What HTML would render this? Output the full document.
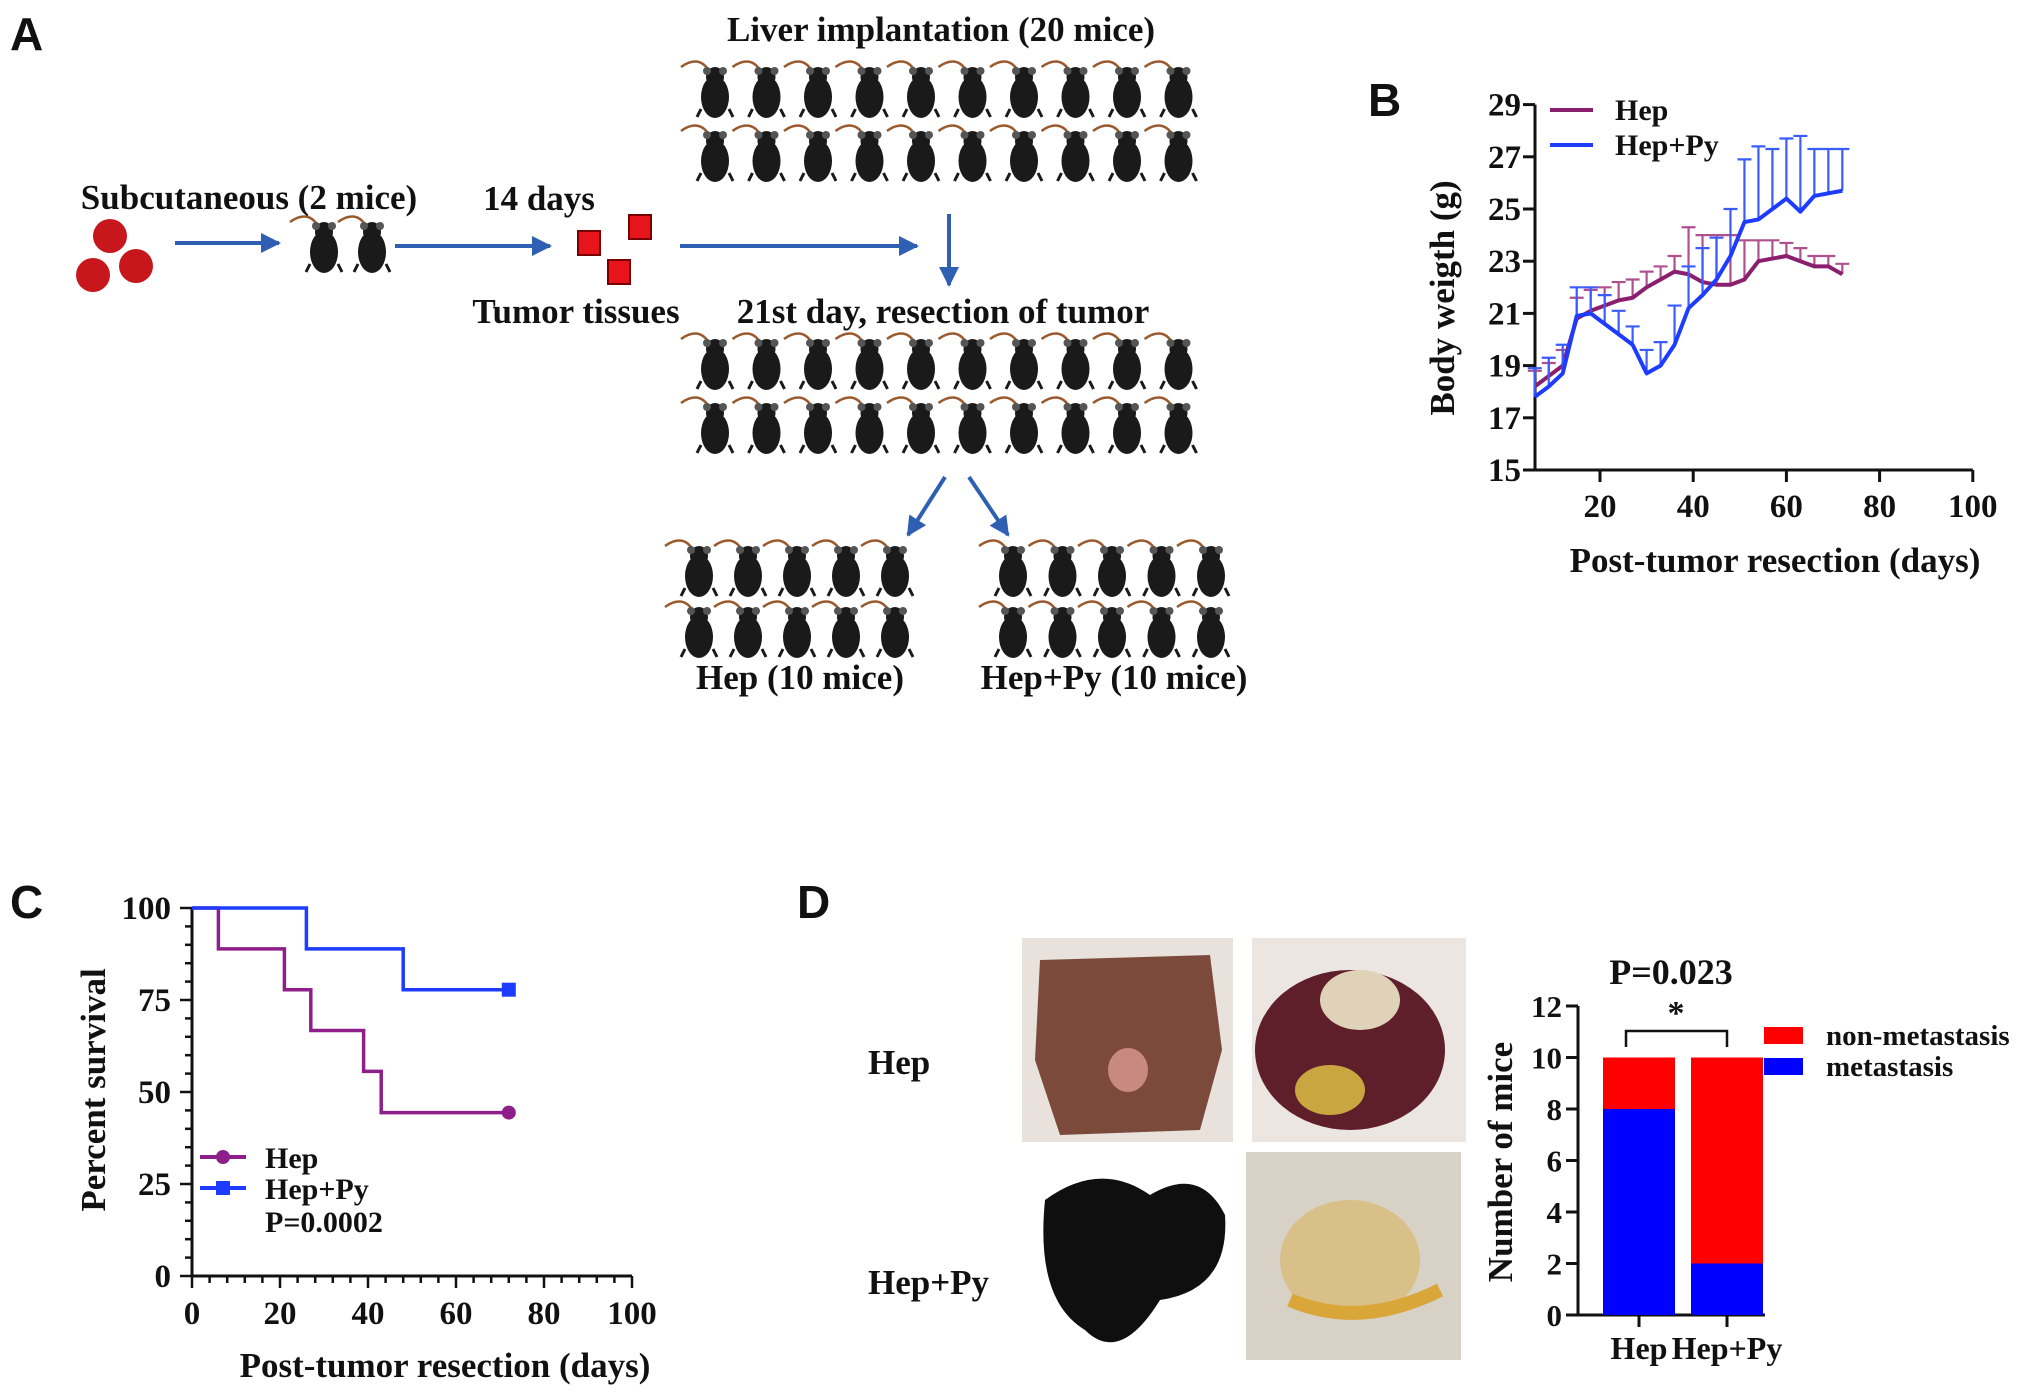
<!DOCTYPE html>
<html><head><meta charset="utf-8"><title>Figure</title>
<style>
html,body{margin:0;padding:0;background:#fff;}
svg{display:block;}
text{font-family:"Liberation Serif",serif;font-weight:bold;fill:#111;}
.lett{font-family:"Liberation Sans",sans-serif;font-weight:bold;font-size:46px;}
</style></head>
<body>
<svg id="fig" width="2031" height="1396" viewBox="0 0 2031 1396" xmlns="http://www.w3.org/2000/svg">
<defs>
<g id="mouse">
<path d="M-6,-20 C-14,-34 -26,-30 -34,-24" stroke="#9b5a2e" stroke-width="2.5" fill="none"/>
<ellipse cx="0" cy="6" rx="14" ry="21" fill="#1a1a1a"/>
<ellipse cx="0" cy="-14" rx="9" ry="10" fill="#1a1a1a"/>
<circle cx="-8" cy="-20" r="4" fill="#555"/>
<circle cx="8" cy="-20" r="4" fill="#555"/>
<path d="M-14,18 l-4,8 M14,18 l4,8" stroke="#1a1a1a" stroke-width="3"/>
</g>
<marker id="ah" viewBox="0 0 10 10" refX="9" refY="5" markerWidth="5" markerHeight="5" orient="auto"><path d="M0,0 L10,5 L0,10 z" fill="#2f5fb3"/></marker>
</defs>

<!-- Panel A -->
<text class="lett" x="10" y="50">A</text>
<text x="941" y="41" font-size="35" text-anchor="middle">Liver implantation (20 mice)</text>
<text x="249" y="209" font-size="35" text-anchor="middle">Subcutaneous (2 mice)</text>
<text x="539" y="210" font-size="35" text-anchor="middle">14 days</text>
<text x="576" y="323" font-size="35" text-anchor="middle">Tumor tissues</text>
<text x="943" y="323" font-size="35" text-anchor="middle">21st day, resection of tumor</text>
<text x="800" y="689" font-size="35" text-anchor="middle">Hep (10 mice)</text>
<text x="1114" y="689" font-size="35" text-anchor="middle">Hep+Py (10 mice)</text>
<g>
<circle cx="110" cy="236" r="17" fill="#c8161d"/><circle cx="93" cy="275" r="17" fill="#c8161d"/><circle cx="136" cy="266" r="17" fill="#c8161d"/>
</g>
<g>
<rect x="578" y="231" width="22" height="24" fill="#e8141c" stroke="#7a0000" stroke-width="2"/>
<rect x="629" y="215" width="22" height="24" fill="#e8141c" stroke="#7a0000" stroke-width="2"/>
<rect x="608" y="260" width="22" height="24" fill="#e8141c" stroke="#7a0000" stroke-width="2"/>
</g>
<g stroke="#2f5fb3" stroke-width="4" marker-end="url(#ah)">
<line x1="175" y1="243" x2="279" y2="243"/>
<line x1="395" y1="246" x2="550" y2="246"/>
<line x1="680" y1="246" x2="917" y2="246"/>
<line x1="949" y1="214" x2="949" y2="285"/>
<line x1="945" y1="477" x2="908" y2="535"/>
<line x1="969" y1="477" x2="1008" y2="535"/>
</g>
<g id="mice"></g>

<!-- Panel B -->
<text class="lett" x="1368" y="116">B</text>
<g id="chartB"></g>

<!-- Panel C -->
<text class="lett" x="10" y="918">C</text>
<g id="chartC"></g>

<!-- Panel D -->
<text class="lett" x="797" y="918">D</text>
<text x="868" y="1074" font-size="35">Hep</text>
<text x="868" y="1294" font-size="35">Hep+Py</text>
<g>
<rect x="1022" y="938" width="211" height="204" fill="#e9e2dc"/>
<path d="M1040,960 L1210,955 L1222,1050 L1200,1130 L1060,1135 L1035,1060 Z" fill="#7c4a3a"/>
<ellipse cx="1128" cy="1070" rx="20" ry="22" fill="#c88a80"/>
</g>
<g>
<rect x="1252" y="938" width="214" height="204" fill="#ece6e2"/>
<ellipse cx="1350" cy="1050" rx="95" ry="80" fill="#5e1f2a"/>
<ellipse cx="1360" cy="1000" rx="40" ry="30" fill="#e0d2b8"/>
<ellipse cx="1330" cy="1090" rx="35" ry="25" fill="#c9a640"/>
</g>
<g>
<rect x="1022" y="1152" width="211" height="208" fill="#ffffff"/>
<path d="M1045,1200 Q1100,1160 1150,1195 Q1200,1165 1225,1215 Q1230,1290 1160,1300 Q1120,1365 1085,1330 Q1035,1300 1045,1200 Z" fill="#0f0f0f"/>
</g>
<g>
<rect x="1246" y="1152" width="215" height="208" fill="#d8d2c6"/>
<ellipse cx="1350" cy="1260" rx="70" ry="60" fill="#d9c089"/>
<path d="M1290,1300 Q1360,1330 1440,1290" stroke="#d9a63a" stroke-width="14" fill="none"/>
</g>
<g id="chartD"></g>
</svg>

<script>
// ---------- Panel B data ----------
const daysB = [6,9,12,15,18,21,24,27,30,33,36,39,42,45,48,51,54,57,60,63,66,69,72];
const hepMean = [18.2,18.6,19.0,20.8,21.1,21.3,21.5,21.6,22.0,22.3,22.6,22.5,22.2,22.1,22.1,22.3,23.0,23.1,23.2,23.0,22.8,22.8,22.5];
const hepErr = [0.6,0.5,0.6,0.8,0.8,0.7,0.7,0.7,0.6,0.5,0.6,1.8,1.8,1.9,1.9,1.5,0.8,0.7,0.5,0.5,0.4,0.4,0.4];
const pyMean = [17.8,18.2,18.7,20.9,21.0,20.6,20.2,19.8,18.7,19.0,19.8,21.2,21.7,22.3,23.2,24.5,24.6,25.0,25.4,24.9,25.5,25.6,25.7];
const pyErr = [1.1,1.1,1.1,1.1,1.0,1.1,0.9,0.7,0.9,0.9,1.5,1.6,1.8,1.6,1.8,2.4,2.8,2.3,2.3,2.9,1.8,1.7,1.6];
const yTicksB = [15,17,19,21,23,25,27,29];
const xTicksB = [20,40,60,80,100];
// ---------- Panel C data ----------
const hepKM_t = [0,6,21,27,39,43,72];
const hepKM_s = [100,88.9,77.8,66.7,55.6,44.4,44.4];
const pyKM_t = [0,26,48,72];
const pyKM_s = [100,88.9,77.8,77.8];
const yTicksC = [0,25,50,75,100];
const xTicksC = [0,20,40,60,80,100];
// ---------- Panel D data ----------
const groupsD = ["Hep","Hep+Py"];
const metastasis = [8,2];
const nonMetastasis = [2,8];
const yTicksD = [0,2,4,6,8,10,12];

const NS = "http://www.w3.org/2000/svg";
function mk(parent, tag, attrs, txt){
  const e = document.createElementNS(NS, tag);
  for (const k in attrs) e.setAttribute(k, attrs[k]);
  if (txt !== undefined) e.textContent = txt;
  parent.appendChild(e);
  return e;
}

// ---------- mice ----------
const miceG = document.getElementById('mice');
const micePos = [];
for (let r of [91,155,363,427]) for (let i=0;i<10;i++) micePos.push([715+i*51.5, r]);
for (let r of [570,631]) { for (let i=0;i<5;i++) micePos.push([699+i*49, r]); for (let i=0;i<5;i++) micePos.push([1013+i*49.5, r]); }
micePos.push([324,246]); micePos.push([372,246]);
micePos.forEach(p => {
  const u = mk(miceG, 'use', {href:'#mouse', transform:`translate(${p[0]},${p[1]})`});
  
  
});

// ---------- Panel B ----------
const gB = document.getElementById('chartB');
const xB = d => 1600 + (d-20)*4.66;
const yB = v => 470 - (v-15)*26.1;
const axB = mk(gB,'path',{d:`M1535,${yB(29)} L1535,470 L${xB(100)},470`,stroke:'#111','stroke-width':3,fill:'none'});


yTicksB.forEach(v=>{
  const t = mk(gB,'line',{x1:1523,x2:1535,y1:yB(v),y2:yB(v),stroke:'#111','stroke-width':3});
  
  
  const l = mk(gB,'text',{x:1521,y:yB(v)+11,'font-size':33,'text-anchor':'end'},String(v));
  
  
});
xTicksB.forEach(v=>{
  const t = mk(gB,'line',{x1:xB(v),x2:xB(v),y1:470,y2:482,stroke:'#111','stroke-width':3});
  
  
  const l = mk(gB,'text',{x:xB(v),y:517,'font-size':33,'text-anchor':'middle'},String(v));
  
  
});
const bxt = mk(gB,'text',{x:1775,y:572,'font-size':35,'text-anchor':'middle'},'Post-tumor resection (days)');


const byt = mk(gB,'text',{x:0,y:0,'font-size':35,'text-anchor':'middle',transform:'translate(1454,298) rotate(-90)'},'Body weigth (g)');


function seriesB(mean, err, color, errColor, name){
  err.forEach((e,i)=>{
    const x = xB(daysB[i]), y0 = yB(mean[i]), y1 = yB(mean[i]+e);
    const eb = mk(gB,'path',{d:`M${x},${y0} L${x},${y1} M${x-7},${y1} L${x+7},${y1}`,stroke:errColor,'stroke-width':2.2,fill:'none'});
    
    
  });
  const pts = mean.map((v,i)=>`${xB(daysB[i])},${yB(v)}`).join(' ');
  const pl = mk(gB,'polyline',{points:pts,stroke:color,'stroke-width':4,fill:'none','stroke-linejoin':'round'});
  
  
}
seriesB(hepMean, hepErr, '#8a1f6e', '#b0508f', 'hep');
seriesB(pyMean, pyErr, '#1e3cff', '#3a5cff', 'hep-py');
const lb1 = mk(gB,'line',{x1:1550,x2:1593,y1:110,y2:110,stroke:'#8a1f6e','stroke-width':4});


const lt1 = mk(gB,'text',{x:1615,y:120,'font-size':30},'Hep');


const lb2 = mk(gB,'line',{x1:1550,x2:1593,y1:145,y2:145,stroke:'#1e3cff','stroke-width':4});


const lt2 = mk(gB,'text',{x:1615,y:155,'font-size':30},'Hep+Py');



// ---------- Panel C ----------
const gC = document.getElementById('chartC');
const xC = d => 192 + d*4.4;
const yC = p => 1276 - p*3.68;
const axC = mk(gC,'path',{d:`M${xC(0)},${yC(100)} L${xC(0)},${yC(0)} L${xC(100)},${yC(0)}`,stroke:'#111','stroke-width':3,fill:'none'});


for (let v=0; v<=100; v+=5){
  const major = v%25===0;
  const t = mk(gC,'line',{x1:xC(0)-(major?12:7),x2:xC(0),y1:yC(v),y2:yC(v),stroke:'#111','stroke-width':2.5});
  
  
}
for (let v=0; v<=100; v+=4){
  const major = v%20===0;
  const t = mk(gC,'line',{x1:xC(v),x2:xC(v),y1:yC(0),y2:yC(0)+(major?12:7),stroke:'#111','stroke-width':2.5});
  
  
}
yTicksC.forEach(v=>{
  const l = mk(gC,'text',{x:171,y:yC(v)+11,'font-size':33,'text-anchor':'end'},String(v));
  
  
});
xTicksC.forEach(v=>{
  const l = mk(gC,'text',{x:xC(v),y:1324,'font-size':33,'text-anchor':'middle'},String(v));
  
  
});
const cxt = mk(gC,'text',{x:445,y:1377,'font-size':35,'text-anchor':'middle'},'Post-tumor resection (days)');


const cyt = mk(gC,'text',{x:0,y:0,'font-size':35,'text-anchor':'middle',transform:'translate(105,1090) rotate(-90)'},'Percent survival');


function stepPath(ts, ss){
  let d = `M${xC(ts[0])},${yC(ss[0])}`;
  for (let i=1;i<ts.length;i++){ d += ` L${xC(ts[i])},${yC(ss[i-1])} L${xC(ts[i])},${yC(ss[i])}`; }
  return d;
}
const kmHep = mk(gC,'path',{d:stepPath(hepKM_t,hepKM_s),stroke:'#8e1f8a','stroke-width':3.5,fill:'none'});


const kmPy = mk(gC,'path',{d:stepPath(pyKM_t,pyKM_s),stroke:'#1e3cff','stroke-width':3.5,fill:'none'});


const endHep = mk(gC,'circle',{cx:xC(hepKM_t[hepKM_t.length-1]),cy:yC(hepKM_s[hepKM_s.length-1]),r:7,fill:'#8e1f8a'});


const endPy = mk(gC,'rect',{x:xC(pyKM_t[pyKM_t.length-1])-7,y:yC(pyKM_s[pyKM_s.length-1])-7,width:14,height:14,fill:'#1e3cff'});


const cl1 = mk(gC,'line',{x1:200,x2:246,y1:1157,y2:1157,stroke:'#8e1f8a','stroke-width':4});


const cm1 = mk(gC,'circle',{cx:223,cy:1157,r:7,fill:'#8e1f8a'});


const ct1 = mk(gC,'text',{x:265,y:1168,'font-size':30},'Hep');


const cl2 = mk(gC,'line',{x1:200,x2:246,y1:1188,y2:1188,stroke:'#1e3cff','stroke-width':4});


const cm2 = mk(gC,'rect',{x:216,y:1181,width:14,height:14,fill:'#1e3cff'});


const ct2 = mk(gC,'text',{x:265,y:1199,'font-size':30},'Hep+Py');


const cp = mk(gC,'text',{x:265,y:1232,'font-size':30},'P=0.0002');



// ---------- Panel D ----------
const gD = document.getElementById('chartD');
const yD = v => 1315 - v*25.75;
const xDc = [1639, 1727];
const barW = 72;
const axD = mk(gD,'path',{d:`M1578,${yD(12)} L1578,1315 L1765,1315`,stroke:'#111','stroke-width':3,fill:'none'});


yTicksD.forEach(v=>{
  const t = mk(gD,'line',{x1:1566,x2:1578,y1:yD(v),y2:yD(v),stroke:'#111','stroke-width':3});
  
  
  const l = mk(gD,'text',{x:1562,y:yD(v)+11,'font-size':31,'text-anchor':'end'},String(v));
  
  
});
groupsD.forEach((g,i)=>{
  const x = xDc[i];
  const b1 = mk(gD,'rect',{x:x-barW/2,y:yD(metastasis[i]),width:barW,height:yD(0)-yD(metastasis[i]),fill:'#0000ff'});
  
  
  const top = metastasis[i]+nonMetastasis[i];
  const b2 = mk(gD,'rect',{x:x-barW/2,y:yD(top),width:barW,height:yD(metastasis[i])-yD(top),fill:'#ff0000'});
  
  
  const t = mk(gD,'line',{x1:x,x2:x,y1:1315,y2:1327,stroke:'#111','stroke-width':3});
  
  
  const l = mk(gD,'text',{x:x,y:1359,'font-size':32,'text-anchor':'middle'},g);
  
  
});
const br = mk(gD,'path',{d:`M1626,1047 L1626,1031 L1727,1031 L1727,1047`,stroke:'#111','stroke-width':2.5,fill:'none'});


const star = mk(gD,'text',{x:1676,y:1024,'font-size':34,'text-anchor':'middle'},'*');


const pv = mk(gD,'text',{x:1671,y:984,'font-size':36,'text-anchor':'middle'},'P=0.023');


const dyt = mk(gD,'text',{x:0,y:0,'font-size':35,'text-anchor':'middle',transform:'translate(1512,1162) rotate(-90)'},'Number of mice');


const dl1 = mk(gD,'rect',{x:1764,y:1027,width:39,height:17,fill:'#ff0000'});


const dt1 = mk(gD,'text',{x:1826,y:1045,'font-size':29},'non-metastasis');


const dl2 = mk(gD,'rect',{x:1764,y:1058,width:39,height:17,fill:'#0000ff'});


const dt2 = mk(gD,'text',{x:1826,y:1076,'font-size':29},'metastasis');


</script>
</body></html>
